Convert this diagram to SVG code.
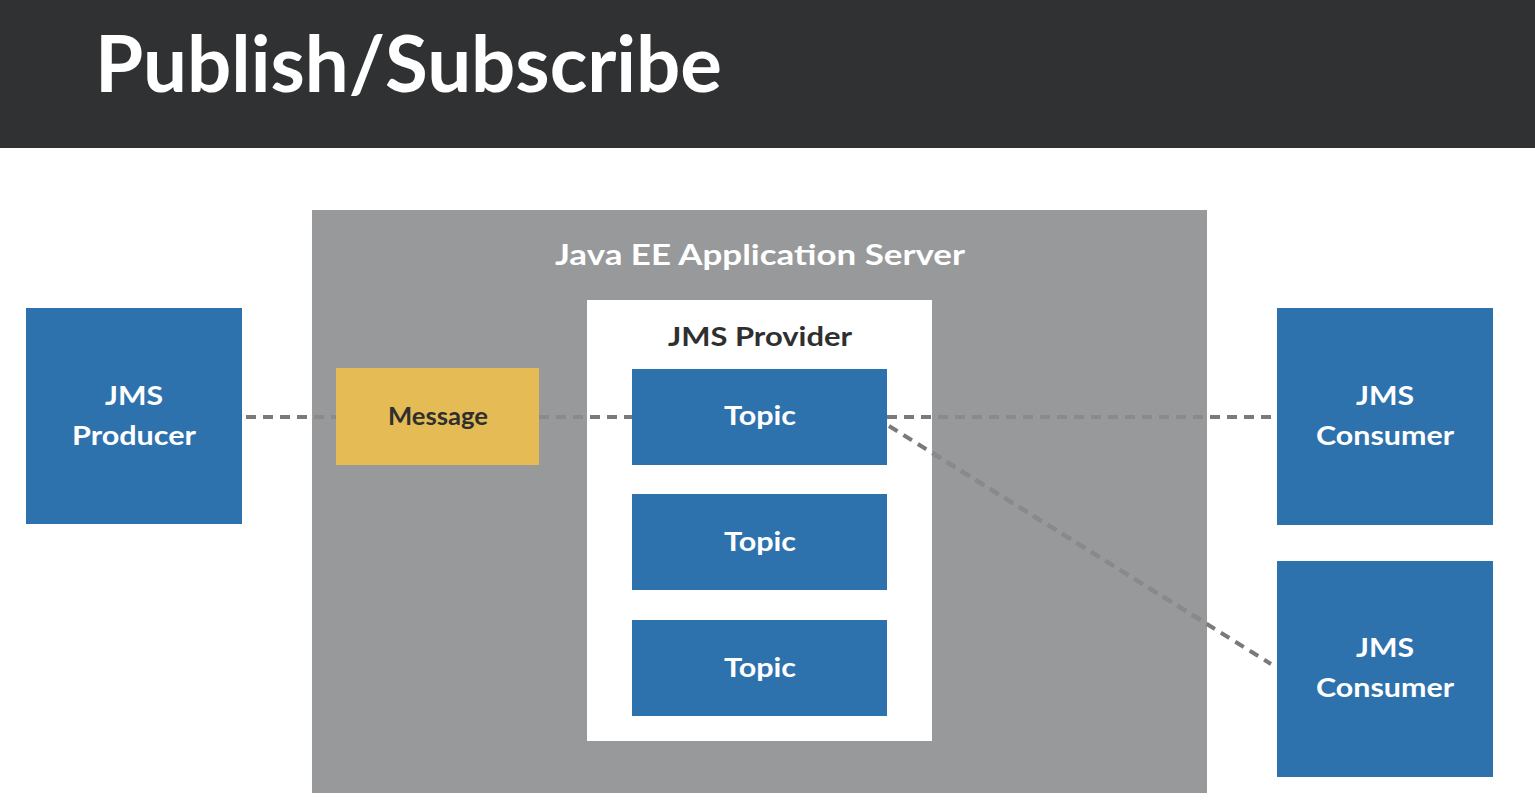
<svg xmlns="http://www.w3.org/2000/svg" xmlns:xlink="http://www.w3.org/1999/xlink" width="1535" height="807" viewBox="0 0 1535 807">
  <style>
    .blue { fill: #2e72ad; }
    .lbl { font-family: Lato, "Open Sans", "Liberation Sans", sans-serif; font-weight: 700; text-anchor: middle; }
    .wt { fill: #ffffff; }
    .dk { fill: #2f2f2f; }
    .conn { fill: none; stroke-width: 4; stroke-dasharray: 10 7; }
  </style>
  <defs>
    <clipPath id="grayOnly">
      <path clip-rule="evenodd" d="M312 210 H1207 V793 H312 Z M587 300 H932 V741 H587 Z"/>
    </clipPath>
  </defs>
  <rect x="0" y="0" width="1535" height="807" fill="#ffffff"/>

  <g id="title-bar">
    <rect x="0" y="0" width="1535" height="148" fill="#303133"/>
    <text x="95" y="92" font-family="Lato, 'Open Sans', 'Liberation Sans', sans-serif" font-weight="700" font-size="78" fill="#ffffff" textLength="627" lengthAdjust="spacingAndGlyphs">Publish/Subscribe</text>
  </g>

  <g id="app-server">
    <rect x="312" y="210" width="895" height="583" fill="#98999b"/>
    <text class="lbl wt" x="760" y="265" font-size="28" textLength="410" lengthAdjust="spacingAndGlyphs">Java EE Application Server</text>
  </g>

  <g id="jms-provider">
    <rect x="587" y="300" width="345" height="441" fill="#ffffff"/>
    <text class="lbl dk" x="760" y="346" font-size="26" textLength="184" lengthAdjust="spacingAndGlyphs">JMS Provider</text>
  </g>

  <g id="connectors" class="conn" stroke="#7a7a7a">
    <g id="connector-lines">
      <path d="M246 417 H336"/>
      <path d="M539 417 H632"/>
      <path d="M887 417 H1275"/>
      <path d="M889 426 L1271 664"/>
    </g>
    <use xlink:href="#connector-lines" href="#connector-lines" stroke="#8a8a8a" clip-path="url(#grayOnly)"/>
  </g>

  <g id="producer">
    <rect class="blue" x="26" y="308" width="216" height="216"/>
    <text class="lbl wt" x="134" y="405" font-size="27" textLength="58" lengthAdjust="spacingAndGlyphs">JMS</text>
    <text class="lbl wt" x="134" y="445" font-size="27" textLength="124" lengthAdjust="spacingAndGlyphs">Producer</text>
  </g>

  <g id="message">
    <rect x="336" y="368" width="203" height="97" fill="#e5bb55"/>
    <text class="lbl dk" x="438" y="425" font-size="24" textLength="100" lengthAdjust="spacingAndGlyphs">Message</text>
  </g>

  <g id="topic-1">
    <rect class="blue" x="632" y="369" width="255" height="96"/>
    <text class="lbl wt" x="760" y="425" font-size="27" textLength="72" lengthAdjust="spacingAndGlyphs">Topic</text>
  </g>

  <g id="topic-2">
    <rect class="blue" x="632" y="494" width="255" height="96"/>
    <text class="lbl wt" x="760" y="551" font-size="27" textLength="72" lengthAdjust="spacingAndGlyphs">Topic</text>
  </g>

  <g id="topic-3">
    <rect class="blue" x="632" y="620" width="255" height="96"/>
    <text class="lbl wt" x="760" y="677" font-size="27" textLength="72" lengthAdjust="spacingAndGlyphs">Topic</text>
  </g>

  <g id="consumer-1">
    <rect class="blue" x="1277" y="308" width="216" height="217"/>
    <text class="lbl wt" x="1385" y="405" font-size="27" textLength="58" lengthAdjust="spacingAndGlyphs">JMS</text>
    <text class="lbl wt" x="1385" y="445" font-size="27" textLength="138" lengthAdjust="spacingAndGlyphs">Consumer</text>
  </g>

  <g id="consumer-2">
    <rect class="blue" x="1277" y="561" width="216" height="216"/>
    <text class="lbl wt" x="1385" y="657" font-size="27" textLength="58" lengthAdjust="spacingAndGlyphs">JMS</text>
    <text class="lbl wt" x="1385" y="697" font-size="27" textLength="138" lengthAdjust="spacingAndGlyphs">Consumer</text>
  </g>
</svg>
